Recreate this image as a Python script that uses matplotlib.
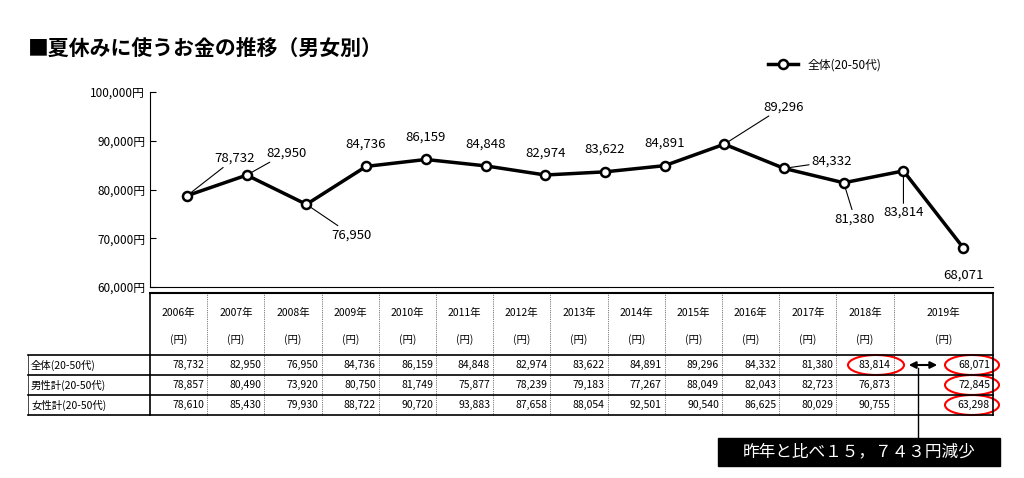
import matplotlib.pyplot as plt
from matplotlib.patches import Ellipse, Rectangle

plt.rcParams['font.family'] = ['Noto Sans CJK JP', 'DejaVu Sans']

years = ['2006年', '2007年', '2008年', '2009年', '2010年', '2011年', '2012年',
         '2013年', '2014年', '2015年', '2016年', '2017年', '2018年', '2019年']
total = [78732, 82950, 76950, 84736, 86159, 84848, 82974, 83622, 84891,
         89296, 84332, 81380, 83814, 68071]
male = [78857, 80490, 73920, 80750, 81749, 75877, 78239, 79183, 77267,
        88049, 82043, 82723, 76873, 72845]
female = [78610, 85430, 79930, 88722, 90720, 93883, 87658, 88054, 92501,
          90540, 86625, 80029, 90755, 63298]
row_names = ['全体(20-50代)', '男性計(20-50代)', '女性計(20-50代)']
yticks = [60000, 70000, 80000, 90000, 100000]

# label offsets in points (dx, dy)
offsets = [(20, 27), (14, 16), (18, -22), (0, 16), (0, 16), (0, 16), (0, 16),
           (0, 16), (0, 16), (28, 27), (20, 5), (8, -26), (0, -30), (0, -20)]

fig = plt.figure(figsize=(10.24, 4.78), dpi=100)
W, H = 1024, 478

# line chart
ax = fig.add_axes([150 / W, 1 - 287 / H, (993 - 150) / W, (287 - 92) / H])
x = list(range(len(total)))
ax.plot(x, total, color='black', lw=2.5, marker='o', ms=6.5,
        mfc='white', mec='black', mew=1.8, label='全体(20-50代)')
for xi, v, (dx, dy) in zip(x, total, offsets):
    ha = 'left' if dx > 10 else 'center'
    ax.annotate(f'{v:,}', (xi, v), xytext=(dx, dy), textcoords='offset points',
                ha=ha, va='center', fontsize=9.5,
                arrowprops=dict(arrowstyle='-', lw=0.8, color='black', shrinkA=0, shrinkB=4)
                if abs(dx) > 10 or abs(dy) > 20 else None)
ax.set_xlim(-0.62, 13.5)
ax.set_ylim(60000, 100000)
ax.set_yticks(yticks)
ax.set_yticklabels([f'{t:,}円' for t in yticks], fontsize=8.5)
ax.set_xticks([])
for s in ['top', 'right']:
    ax.spines[s].set_visible(False)
ax.tick_params(axis='y', direction='in', length=4)
ax.legend(loc='lower right', bbox_to_anchor=(0.88, 1.05), frameon=False,
          fontsize=8.5, handlelength=2.5)

# title, table and annotations in pixel coordinates
ov = fig.add_axes([0, 0, 1, 1])
ov.set_xlim(0, W)
ov.set_ylim(H, 0)
ov.axis('off')
ov.text(28, 48, '■夏休みに使うお金の推移（男女別）', fontsize=15, weight='bold', va='center')

edges = [150 + i * 57.2 for i in range(14)] + [993]
rows_y = [293, 355, 375, 395, 415]
ov.plot([150, 993], [293, 293], color='black', lw=1.5)
for yy in rows_y[1:]:
    ov.plot([28, 993], [yy, yy], color='black', lw=1.2)
for i, e in enumerate(edges):
    lw = 1.2 if i in (0, len(edges) - 1) else 0.5
    ov.plot([e, e], [293, 415], color='black', lw=lw, ls='-' if lw > 1 else ':')
ov.plot([28, 28], [355, 415], color='black', lw=0.5)
for i, yr in enumerate(years):
    cx = (edges[i] + edges[i + 1]) / 2
    ov.text(cx, 313, yr, ha='center', va='center', fontsize=7.5)
    ov.text(cx, 340, '(円)', ha='center', va='center', fontsize=7.5)
for r, (name, vals) in enumerate(zip(row_names, [total, male, female])):
    cy = (rows_y[r + 1] + rows_y[r + 2]) / 2
    ov.text(31, cy, name, va='center', fontsize=7.5)
    for i, v in enumerate(vals):
        ov.text(edges[i + 1] - 3, cy, f'{v:,}', ha='right', va='center', fontsize=7.5)

for cx, cy, w in [(876, 365, 56), (972, 365, 54), (972, 385, 54), (972, 405, 54)]:
    ov.add_patch(Ellipse((cx, cy), w, 20, fill=False, ec='red', lw=1.5))
ov.annotate('', xy=(906, 365), xytext=(940, 365),
            arrowprops=dict(arrowstyle='<|-|>', color='black', lw=1.5))
ov.plot([918, 918], [368, 438], color='black', lw=1)
ov.add_patch(Rectangle((718, 438), 282, 28, color='black'))
ov.text(859, 452, '昨年と比べ１５，７４３円減少', color='white', fontsize=12,
        ha='center', va='center')

fig.savefig('out.png', dpi=100)
